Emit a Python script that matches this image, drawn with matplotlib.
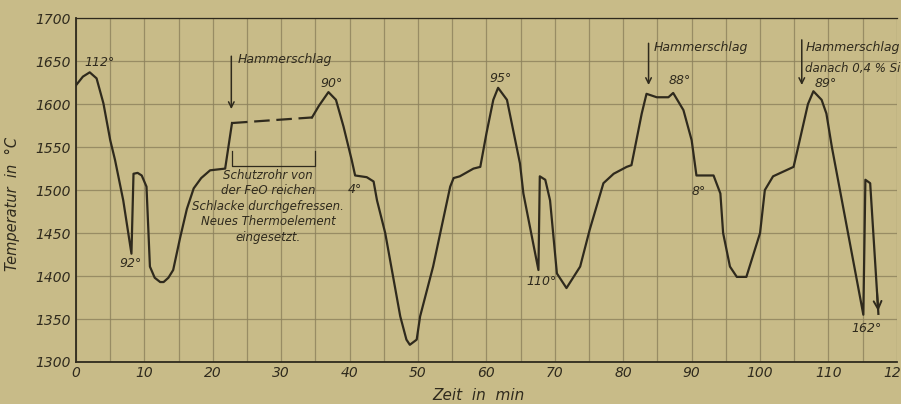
import numpy as np
import matplotlib
matplotlib.use('Agg')
import matplotlib.pyplot as plt

plt.rcParams['font.family'] = ['DejaVu Sans']
plt.rcParams['font.style'] = 'italic'

BG = '#c8bb88'
INK = '#2f2a1d'
GRID = '#8c815c'

# ---- Messkurve (Zeit in min, Temperatur in °C) ----
# Abschnitt 1: bis zum Hammerschlag
zeit_a = [0, 1.0, 2.0, 3.0, 4.0, 5.0, 5.7, 6.9, 8.1, 8.4, 9.0, 9.6, 10.3,
          10.8, 11.5, 12.3, 12.8, 13.5, 14.2, 15.2, 16.2, 17.2, 18.3, 19.6,
          21.8, 22.8]
temp_a = [1622, 1632, 1637, 1630, 1601, 1558, 1535, 1488, 1426, 1519, 1520,
          1517, 1504, 1411, 1398, 1393, 1393, 1398, 1407, 1444, 1478, 1502,
          1514, 1523, 1525, 1578]
# Abschnitt 2: gestrichelt (Thermoelement defekt)
zeit_d = [22.8, 34.5]
temp_d = [1578, 1584.5]
# Abschnitt 3: Rest
zeit_b = [34.5, 35.5, 36.9, 38.0, 39.1, 40.3, 40.8, 42.5, 43.5, 44.0, 45.2,
          47.4, 48.3, 48.8, 49.8, 50.3, 52.2, 54.7, 55.2, 56.1, 58.1, 59.1,
          60.0, 61.0, 61.7, 63.0, 64.9, 65.4, 67.6, 67.8, 68.6, 69.3, 70.3,
          71.7, 73.7, 75.1, 77.1, 78.6, 80.5, 81.2, 82.7, 83.4, 84.9, 86.6,
          87.3, 88.8, 90.0, 90.7, 93.2, 94.2, 94.6, 95.6, 96.6, 98.0, 100.0,
          100.7, 101.9, 104.9, 105.6, 107.0, 107.8, 109.0, 109.7, 110.5,
          115.1, 115.4, 116.1, 117.3]
temp_b = [1584.5, 1598, 1614, 1605, 1574, 1535, 1517, 1515, 1510, 1488, 1450,
          1353, 1326, 1320, 1326, 1353, 1411, 1504, 1514, 1516, 1525, 1527,
          1566, 1605, 1619, 1605, 1531, 1496, 1407, 1516, 1512, 1488, 1403,
          1386, 1411, 1454, 1508, 1519, 1527, 1529, 1589, 1612, 1608, 1608,
          1613, 1593, 1558, 1517, 1517, 1496, 1450, 1411, 1399, 1399, 1450,
          1500, 1516, 1527, 1551, 1600, 1615, 1605, 1589, 1550, 1355, 1512,
          1508, 1356]

x_ticks = list(range(0, 121, 10))
y_ticks = list(range(1300, 1701, 50))

# Gradangaben an der Kurve
grad_labels = ['112°', '92°', '90°', '4°', '95°', '110°', '88°', '8°', '89°', '162°']
grad_x      = [3.5, 8.0, 37.4, 40.8, 62.0, 68.1, 88.3, 91.1, 109.6, 115.6]
grad_y      = [1649, 1414, 1624, 1501, 1630, 1394, 1627, 1498, 1624, 1339]

# Hammerschlag-Pfeile (x, y oben, y unten)
hs_x   = [22.7, 83.7, 106.1]
hs_top = [1659, 1674, 1678]
hs_bot = [1591, 1619, 1619]

fig = plt.figure(figsize=(9.01, 4.04), dpi=100, facecolor=BG)
ax = fig.add_axes([0.0844, 0.104, 0.911, 0.851], facecolor=BG)

ax.set_xlim(0, 120)
ax.set_ylim(1300, 1700)
ax.set_xticks(x_ticks)
ax.set_yticks(y_ticks)
ax.set_xticks(np.arange(5, 120, 10), minor=True)
ax.tick_params(which='both', length=0, labelsize=10, colors=INK)
ax.tick_params(axis='y', pad=4)
ax.tick_params(axis='x', pad=3)
ax.grid(True, which='both', color=GRID, linewidth=0.9, alpha=0.8)
ax.grid(False, which='minor', axis='y')
ax.spines['right'].set_visible(False)
for s in ['left', 'bottom', 'top']:
    ax.spines[s].set_color(INK)
    ax.spines[s].set_linewidth(1.3)
ax.spines['top'].set_linewidth(0.9)

# Kurve
ax.plot(zeit_a, temp_a, color=INK, linewidth=1.6, solid_joinstyle='round')
ax.plot(zeit_d, temp_d, color=INK, linewidth=1.6, dashes=(7, 3))
ax.plot(zeit_b, temp_b, color=INK, linewidth=1.6, solid_joinstyle='round')
# Pfeilspitze am Ende
xe, ye = zeit_b[-1], temp_b[-1]
xs = zeit_b[-2] + 0.8 * (xe - zeit_b[-2])
ys = temp_b[-2] + 0.8 * (ye - temp_b[-2])
ax.annotate('', xy=(xe, ye), xytext=(xs, ys),
            arrowprops=dict(arrowstyle='->', color=INK, lw=1.4,
                            mutation_scale=14))

# Gradangaben
for lab, gx, gy in zip(grad_labels, grad_x, grad_y):
    ax.text(gx, gy, lab, fontsize=9, ha='center', va='center', color=INK)

# Hammerschlag-Pfeile
for hx, ht, hb in zip(hs_x, hs_top, hs_bot):
    ax.annotate('', xy=(hx, hb), xytext=(hx, ht),
                arrowprops=dict(arrowstyle='->', color=INK, lw=1.1,
                                mutation_scale=10))
ax.text(23.7, 1652, 'Hammerschlag', fontsize=9, ha='left', va='center', color=INK)
ax.text(84.4, 1666, 'Hammerschlag', fontsize=9, ha='left', va='center', color=INK)
ax.text(106.6, 1666, 'Hammerschlag', fontsize=9, ha='left', va='center',
        color=INK, clip_on=False)
ax.text(106.6, 1641, 'danach 0,4 % Si', fontsize=8.5, ha='left', va='center',
        color=INK)

# Klammer fuer defektes Thermoelement
ax.plot([22.8, 22.8, 35.0, 35.0], [1545, 1528, 1528, 1545], color=INK,
        linewidth=0.9)
ax.text(28.1, 1481, 'Schutzrohr von\nder FeO reichen\nSchlacke durchgefressen.\n'
        'Neues Thermoelement\neingesetzt.', fontsize=8.5, ha='center',
        va='center', color=INK, linespacing=1.25)

ax.set_xlabel('Zeit  in  min', fontsize=11, color=INK)
ax.set_ylabel('Temperatur  in  °C', fontsize=10.5, color=INK)
ax.xaxis.set_label_coords(0.49, -0.075)
ax.yaxis.set_label_coords(-0.068, 0.46)

fig.savefig('out.png', dpi=100, facecolor=BG)
